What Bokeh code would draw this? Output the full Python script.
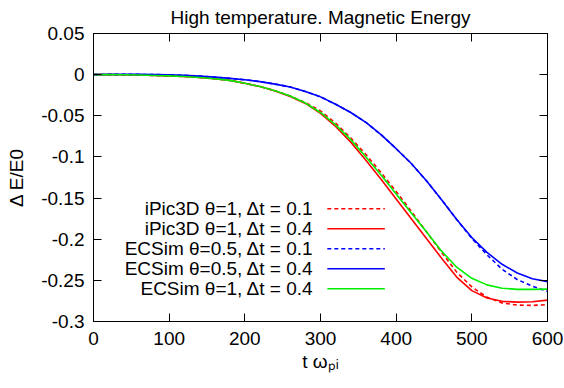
from bokeh.plotting import figure
from bokeh.models import Range1d, LinearAxis, FixedTicker
from bokeh.core.properties import value
from bokeh.embed import file_html
from bokeh.resources import INLINE

# ---- data ----
t = [0, 20, 40, 60, 80, 100, 120, 140, 160, 180, 200, 220, 240, 260, 280, 300,
     320, 340, 360, 380, 400, 420, 440, 460, 480, 500, 520, 540, 560, 580, 600]

ipic_dt01 = [0, 0, -0.0002, -0.0005, -0.001, -0.0015, -0.0023, -0.0035, -0.005, -0.007, -0.0105,
             -0.0145, -0.0195, -0.026, -0.034, -0.044, -0.059, -0.077, -0.097, -0.119, -0.142,
             -0.166, -0.191, -0.216, -0.240, -0.258, -0.2705, -0.2775, -0.2800, -0.2805, -0.2795]
ipic_dt04 = [0, 0, -0.0002, -0.0005, -0.001, -0.0015, -0.0023, -0.0035, -0.005, -0.007, -0.0105,
             -0.0145, -0.0198, -0.0265, -0.035, -0.047, -0.063, -0.082, -0.104, -0.127, -0.151,
             -0.175, -0.199, -0.223, -0.246, -0.2625, -0.2715, -0.2755, -0.2765, -0.276, -0.274]
ecsim05_dt01 = [0, 0.0003, 0.0004, 0.0003, 0.0001, -0.0002, -0.0008, -0.0018, -0.003, -0.0045, -0.0062,
                -0.0085, -0.0115, -0.015, -0.0205, -0.027, -0.036, -0.046, -0.058, -0.073, -0.090,
                -0.108, -0.129, -0.152, -0.176, -0.199, -0.219, -0.2365, -0.249, -0.257, -0.2635]
ecsim05_dt04 = [0, 0.0003, 0.0004, 0.0003, 0.0001, -0.0002, -0.0008, -0.0018, -0.003, -0.0045, -0.0062,
                -0.0085, -0.0115, -0.015, -0.0205, -0.027, -0.036, -0.046, -0.058, -0.073, -0.090,
                -0.108, -0.129, -0.152, -0.176, -0.198, -0.216, -0.2305, -0.241, -0.248, -0.2515]
ecsim1_dt04 = [0, 0, -0.0002, -0.0005, -0.001, -0.0015, -0.0023, -0.0035, -0.005, -0.007, -0.0105,
               -0.0145, -0.0195, -0.026, -0.0345, -0.046, -0.061, -0.079, -0.100, -0.122, -0.145,
               -0.168, -0.191, -0.2145, -0.234, -0.2475, -0.2555, -0.2595, -0.261, -0.261, -0.2607]

series_labels = ["iPic3D θ=1, Δt = 0.1", "iPic3D θ=1, Δt = 0.4", "ECSim θ=0.5, Δt = 0.1",
                 "ECSim θ=0.5, Δt = 0.4", "ECSim θ=1, Δt = 0.4"]
series_values = [ipic_dt01, ipic_dt04, ecsim05_dt01, ecsim05_dt04, ecsim1_dt04]
series_colors = ["#ff0000", "#ff0000", "#0000ff", "#0000ff", "#00ee00"]
series_dash = ["4 3", "solid", "4 3", "solid", "solid"]

x_ticks = [0, 100, 200, 300, 400, 500, 600]
y_ticks = [0.05, 0, -0.05, -0.1, -0.15, -0.2, -0.25, -0.3]
y_tick_labels = ["0.05", "0", "-0.05", "-0.1", "-0.15", "-0.2", "-0.25", "-0.3"]

FONT = "Liberation Sans"
FS = "19px"

p = figure(width=564, height=388, output_backend="svg", toolbar_location=None,
           x_range=Range1d(0, 600), y_range=Range1d(-0.3, 0.05),
           title="High temperature. Magnetic Energy",
           x_axis_label="t ωₚᵢ", y_axis_label="Δ E/E0")
p.frame_width = 454
p.frame_height = 288
p.min_border_left = 93
p.min_border_right = 17
p.min_border_top = 33
p.min_border_bottom = 67
p.border_fill_color = "white"
p.background_fill_color = "white"
p.outline_line_color = "black"
p.outline_line_width = 1
p.grid.visible = False

p.title.align = "center"
p.title.vertical_align = "top"
p.title.text_font = FONT
p.title.text_font_size = FS
p.title.text_font_style = "normal"
p.title.text_color = "black"
p.title.standoff = 8

for ax in (p.xaxis[0], p.yaxis[0]):
    ax.major_tick_in = 8
    ax.major_tick_out = 0
    ax.minor_tick_line_color = None
    ax.axis_line_color = "black"
    ax.major_tick_line_color = "black"
    ax.major_label_text_font = FONT
    ax.major_label_text_font_size = FS
    ax.major_label_text_color = "black"
    ax.axis_label_text_font = FONT
    ax.axis_label_text_font_size = FS
    ax.axis_label_text_font_style = "normal"
    ax.axis_label_text_color = "black"

p.xaxis[0].ticker = FixedTicker(ticks=x_ticks)
p.yaxis[0].ticker = FixedTicker(ticks=y_ticks)
p.yaxis[0].major_label_overrides = {tk: lb for tk, lb in zip(y_ticks, y_tick_labels)}
p.xaxis[0].major_label_standoff = 10
p.yaxis[0].major_label_standoff = 9
p.xaxis[0].axis_label_standoff = 3
p.yaxis[0].axis_label_standoff = 11

# mirrored ticks on top and right (no labels)
for side, tks in (("right", y_ticks), ("above", x_ticks)):
    ax = LinearAxis(ticker=FixedTicker(ticks=tks))
    ax.major_tick_in = 8
    ax.major_tick_out = 0
    ax.minor_tick_line_color = None
    ax.major_label_overrides = {tk: "" for tk in tks}
    ax.major_label_text_color = None
    ax.major_label_standoff = 0
    ax.axis_line_color = "black"
    p.add_layout(ax, side)

for vals, col, dash in zip(series_values, series_colors, series_dash):
    p.line(t, vals, line_color=col, line_width=1.6, line_dash=dash)

# gnuplot-style key: right-aligned text, sample line on its right
LEG_TEXT_X = 291
LEG_LINE_X0, LEG_LINE_X1 = 309, 385
LEG_Y0 = -0.163
LEG_DY = 0.0243
for i, (lab, col, dash) in enumerate(zip(series_labels, series_colors, series_dash)):
    yy = LEG_Y0 - i * LEG_DY
    p.text(x=[LEG_TEXT_X], y=[yy], text=[lab], text_align="right", text_baseline="middle",
           text_font=value(FONT), text_font_size=FS, text_color="black")
    p.line([LEG_LINE_X0, LEG_LINE_X1], [yy, yy], line_color=col, line_width=1.6, line_dash=dash)

open("out.html", "w").write(file_html(p, INLINE))
